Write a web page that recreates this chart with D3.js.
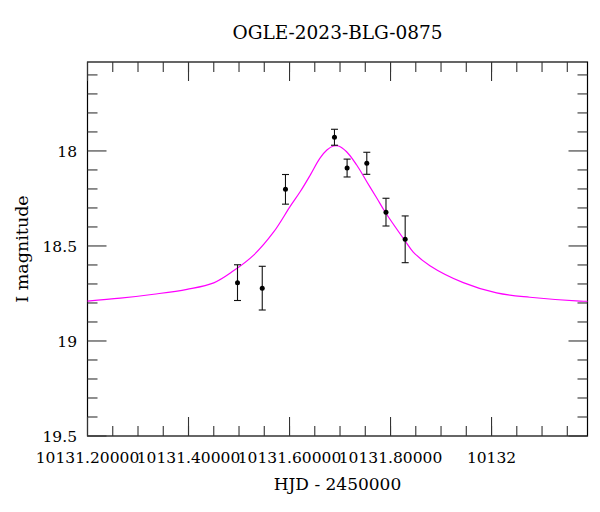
<!DOCTYPE html>
<html>
<head>
<meta charset="utf-8">
<script src="https://cdn.jsdelivr.net/npm/d3@7"></script>
<style>
  body { margin: 0; background: #fff; }
  text { font-family: "DejaVu Serif", "Liberation Serif", serif; fill: #000; }
</style>
</head>
<body>
<div id="chart"></div>
<script>
// observed points (HJD - 2450000, I mag, error)
const obsTime = [10131.497, 10131.546, 10131.592, 10131.689, 10131.714, 10131.753, 10131.791, 10131.829];
const obsMag  = [18.693, 18.722, 18.202, 17.928, 18.090, 18.065, 18.322, 18.465];
const obsErr  = [0.094, 0.115, 0.078, 0.042, 0.047, 0.058, 0.073, 0.123];

// model curve
const modelTime = [10131.200, 10131.265, 10131.331, 10131.397, 10131.450, 10131.489, 10131.529, 10131.569,
                   10131.601, 10131.621, 10131.641, 10131.660, 10131.674, 10131.687, 10131.697, 10131.713,
                   10131.733, 10131.753, 10131.773, 10131.789, 10131.829, 10131.845, 10131.878, 10131.944,
                   10132.010, 10132.076, 10132.175, 10132.190];
const modelMag  = [18.790, 18.775, 18.754, 18.728, 18.694, 18.631, 18.548, 18.425,
                   18.293, 18.215, 18.127, 18.039, 17.995, 17.974, 17.974, 18.004,
                   18.074, 18.162, 18.249, 18.320, 18.474, 18.532, 18.604, 18.693,
                   18.747, 18.770, 18.790, 18.791];

// ticks
const xMajor = [10131.2, 10131.4, 10131.6, 10131.8, 10132.0];
const xLabels = ["10131.20000", "10131.40000", "10131.60000", "10131.80000", "10132"];
const xMinor = d3.range(10131.25, 10132.19, 0.05);
const yMajor = [18, 18.5, 19, 19.5];
const yLabels = ["18", "18.5", "19", "19.5"];
const yMinor = [17.6, 17.7, 17.8, 17.9, 18.1, 18.2, 18.3, 18.4, 18.6, 18.7, 18.8, 18.9, 19.1, 19.2, 19.3, 19.4];

const width = 600;
const height = 512;
const margin = { top: 62, right: 12.5, bottom: 76, left: 87.5 };
const x0 = margin.left, x1 = width - margin.right;
const y0 = margin.top, y1 = height - margin.bottom;

const svg = d3.select('#chart')
  .append('svg')
  .attr('width', width)
  .attr('height', height);

const xScale = d3.scaleLinear()
  .domain([10131.2, 10132.19])
  .range([x0, x1]);

const yScale = d3.scaleLinear()
  .domain([17.532, 19.5])   // magnitudes: bright at top
  .range([y0, y1]);

// frame
svg.append('rect')
  .attr('x', x0).attr('y', y0)
  .attr('width', x1 - x0).attr('height', y1 - y0)
  .attr('fill', 'none')
  .attr('stroke', '#000')
  .attr('stroke-width', 1.2);

const majorLen = 19, minorLen = 10;

// ticks on all four sides, pointing inward
const tickG = svg.append('g').attr('stroke', '#333').attr('stroke-width', 1.1);

function xTicks(vals, len) {
  vals.forEach(v => {
    const px = xScale(v);
    tickG.append('line').attr('x1', px).attr('x2', px).attr('y1', y1).attr('y2', y1 - len);
    tickG.append('line').attr('x1', px).attr('x2', px).attr('y1', y0).attr('y2', y0 + len);
  });
}
function yTicks(vals, len) {
  vals.forEach(v => {
    const py = yScale(v);
    tickG.append('line').attr('y1', py).attr('y2', py).attr('x1', x0).attr('x2', x0 + len);
    tickG.append('line').attr('y1', py).attr('y2', py).attr('x1', x1).attr('x2', x1 - len);
  });
}
xTicks(xMajor, majorLen);
xTicks(xMinor, minorLen);
yTicks(yMajor, majorLen);
yTicks(yMinor, minorLen);

// tick labels
svg.append('g').selectAll('text')
  .data(xMajor)
  .join('text')
  .attr('x', d => xScale(d))
  .attr('y', 462.5)
  .attr('text-anchor', 'middle')
  .attr('font-size', 15.5)
  .text((d, i) => xLabels[i]);

svg.append('g').selectAll('text')
  .data(yMajor)
  .join('text')
  .attr('x', 77)
  .attr('y', d => yScale(d))
  .attr('dy', '0.36em')
  .attr('text-anchor', 'end')
  .attr('font-size', 15.5)
  .text((d, i) => yLabels[i]);

// title and axis labels
svg.append('text')
  .attr('x', (x0 + x1) / 2)
  .attr('y', 38.5)
  .attr('text-anchor', 'middle')
  .attr('font-size', 18.5)
  .text('OGLE-2023-BLG-0875');

svg.append('text')
  .attr('x', (x0 + x1) / 2)
  .attr('y', 489.5)
  .attr('text-anchor', 'middle')
  .attr('font-size', 17)
  .text('HJD - 2450000');

svg.append('text')
  .attr('transform', `translate(27.5, ${(y0 + y1) / 2}) rotate(-90)`)
  .attr('text-anchor', 'middle')
  .attr('font-size', 17.5)
  .text('I magnitude');

// model line
const modelData = modelTime.map((t, i) => ({ x: t, y: modelMag[i] }));
const line = d3.line()
  .x(d => xScale(d.x))
  .y(d => yScale(d.y))
  .curve(d3.curveCatmullRom.alpha(0.5));

svg.append('path')
  .datum(modelData)
  .attr('fill', 'none')
  .attr('stroke', '#ff00ff')
  .attr('stroke-width', 1.2)
  .attr('d', line);

// data points with error bars
const pts = obsTime.map((t, i) => ({ x: t, y: obsMag[i], e: obsErr[i] }));
const errG = svg.append('g').attr('stroke', '#111').attr('stroke-width', 1.1);
pts.forEach(d => {
  const px = xScale(d.x);
  const top = yScale(d.y - d.e), bot = yScale(d.y + d.e);
  errG.append('line').attr('x1', px).attr('x2', px).attr('y1', top).attr('y2', bot);
  errG.append('line').attr('x1', px - 3.5).attr('x2', px + 3.5).attr('y1', top).attr('y2', top);
  errG.append('line').attr('x1', px - 3.5).attr('x2', px + 3.5).attr('y1', bot).attr('y2', bot);
});

svg.append('g').selectAll('circle')
  .data(pts)
  .join('circle')
  .attr('cx', d => xScale(d.x))
  .attr('cy', d => yScale(d.y))
  .attr('r', 2.5)
  .attr('fill', '#000');
</script>
</body>
</html>
